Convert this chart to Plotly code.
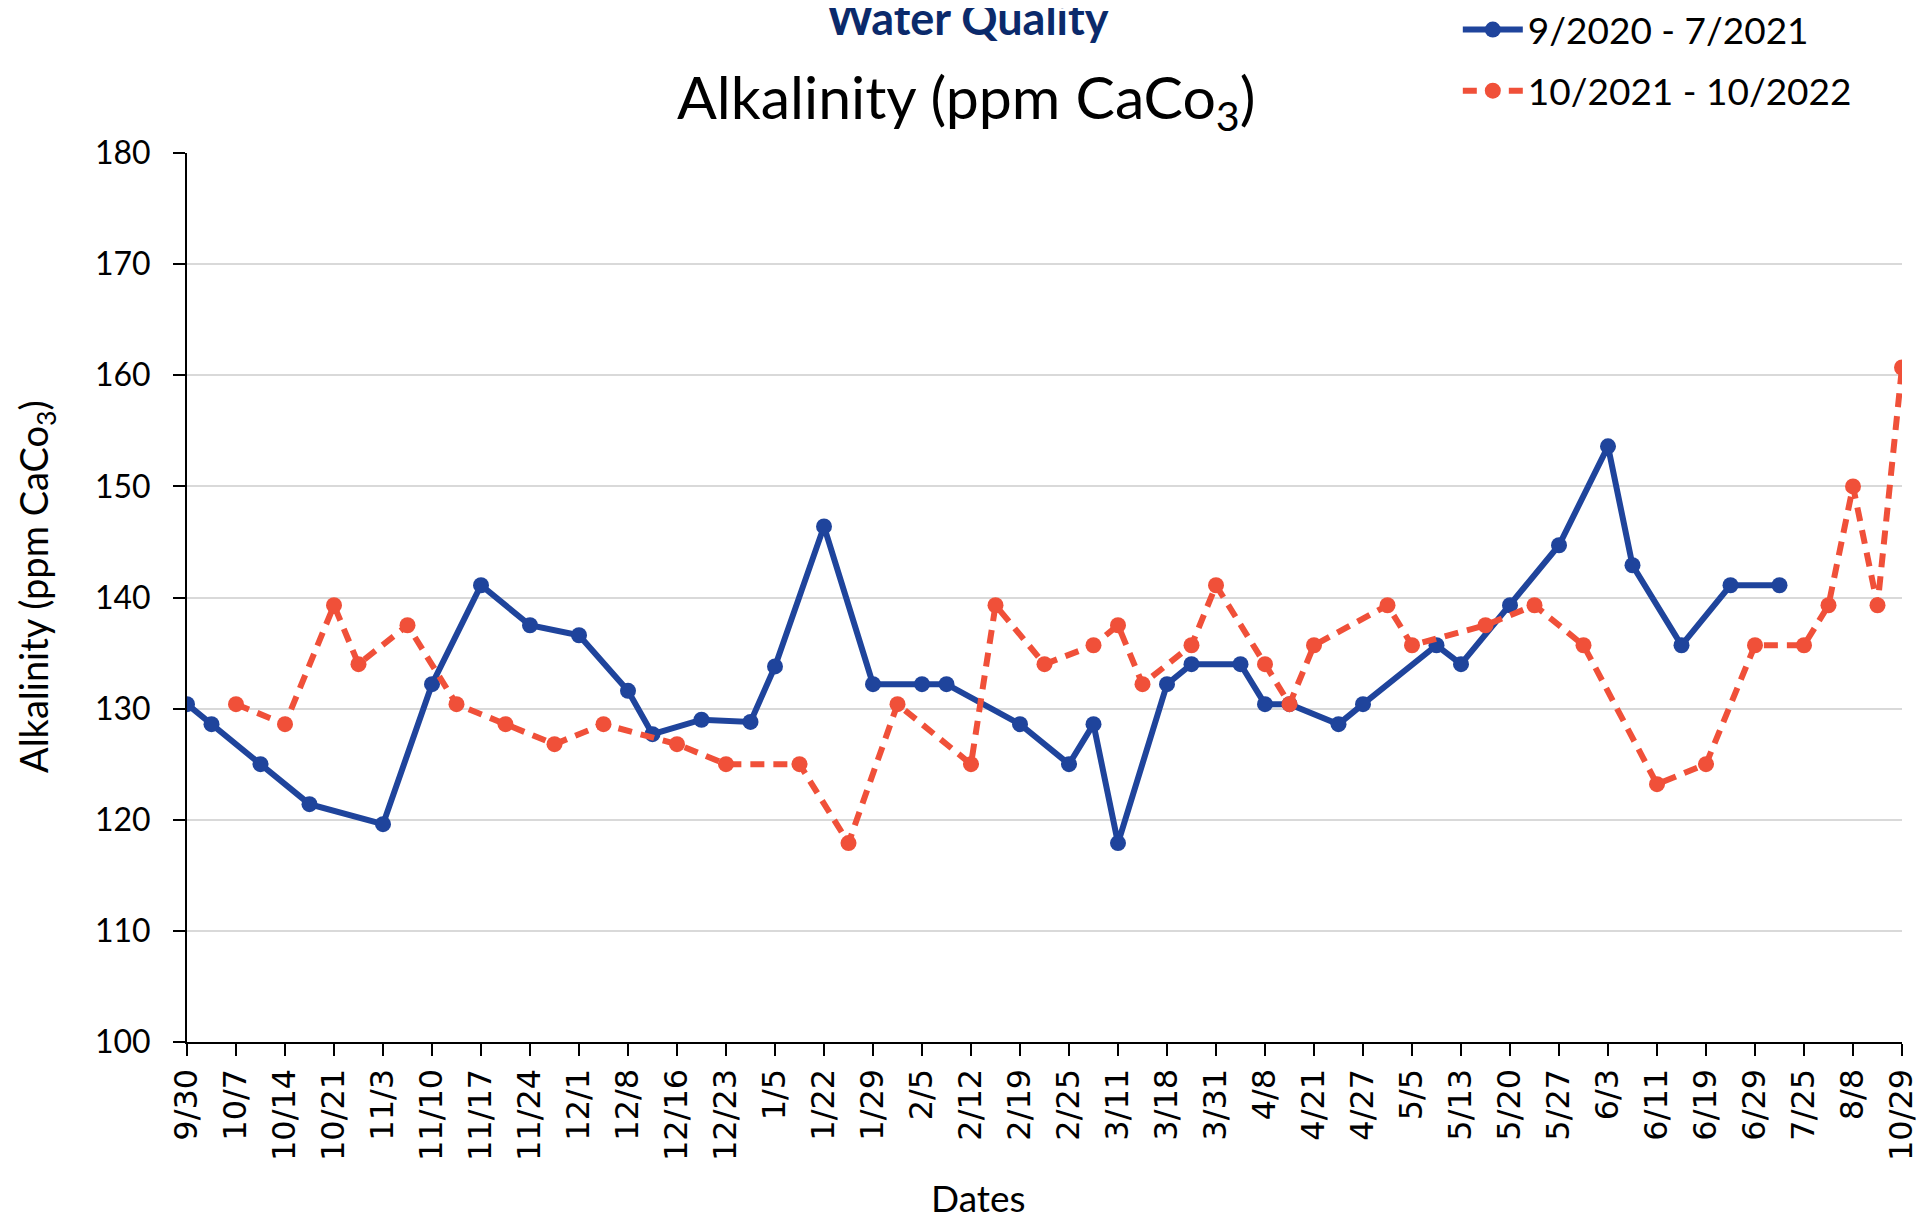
import plotly.graph_objects as go

# every other sample date is labelled on the axis (index 0, 2, 4 ... 70)
tick_labels = ["9/30", "10/7", "10/14", "10/21", "11/3", "11/10", "11/17", "11/24",
               "12/1", "12/8", "12/16", "12/23", "1/5", "1/22", "1/29", "2/5",
               "2/12", "2/19", "2/25", "3/11", "3/18", "3/31", "4/8", "4/21",
               "4/27", "5/5", "5/13", "5/20", "5/27", "6/3", "6/11", "6/19",
               "6/29", "7/25", "8/8", "10/29"]
n_samples = 71
sample_idx = list(range(n_samples))
tick_idx = sample_idx[::2]

# alkalinity readings (ppm CaCO3) by sample slot, None = no reading that slot
season_1 = {
    0: 130.4, 1: 128.6, 3: 125.0, 5: 121.4, 8: 119.6, 10: 132.2, 12: 141.1,
    14: 137.5, 16: 136.6, 18: 131.6, 19: 127.7, 21: 129.0, 23: 128.8, 24: 133.8,
    26: 146.4, 28: 132.2, 30: 132.2, 31: 132.2, 34: 128.6, 36: 125.0, 37: 128.6,
    38: 117.9, 40: 132.2, 41: 134.0, 43: 134.0, 44: 130.4, 45: 130.4, 47: 128.6,
    48: 130.4, 51: 135.7, 52: 134.0, 54: 139.3, 56: 144.7, 58: 153.6, 59: 142.9,
    61: 135.7, 63: 141.1, 65: 141.1,
}
season_2 = {
    2: 130.4, 4: 128.6, 6: 139.3, 7: 134.0, 9: 137.5, 11: 130.4, 13: 128.6,
    15: 126.8, 17: 128.6, 20: 126.8, 22: 125.0, 25: 125.0, 27: 117.9, 29: 130.4,
    32: 125.0, 33: 139.3, 35: 134.0, 37: 135.7, 38: 137.5, 39: 132.2, 41: 135.7,
    42: 141.1, 44: 134.0, 45: 130.4, 46: 135.7, 49: 139.3, 50: 135.7, 53: 137.5,
    55: 139.3, 57: 135.7, 60: 123.2, 62: 125.0, 64: 135.7, 66: 135.7, 67: 139.3,
    68: 150.0, 69: 139.3, 70: 160.7,
}
series_1 = [season_1.get(i) for i in sample_idx]
series_2 = [season_2.get(i) for i in sample_idx]

BLUE = "#1F449C"
RED = "#F05039"
FONT = "Lato"

# plot area in page pixels
W, H = 1927, 1219
L, R, T, B = 179, 33, 145, 185
plot_w = W - L - R
plot_h = H - T - B


def px_x(x):
    return (x - L) / plot_w


def px_y(y):
    return (H - B - y) / plot_h


fig = go.Figure()
fig.add_trace(go.Scatter(
    x=sample_idx, y=series_1, name="9/2020 - 7/2021",
    mode="lines+markers", connectgaps=True, legendgroup="a",
    line=dict(color=BLUE, width=6),
    marker=dict(color=BLUE, size=16),
))
fig.add_trace(go.Scatter(
    x=sample_idx, y=series_2, name="10/2021 - 10/2022",
    mode="lines+markers", connectgaps=True, legendgroup="b",
    line=dict(color=RED, width=6, dash="14px,9px"),
    marker=dict(color=RED, size=16),
))

fig.update_layout(
    width=W, height=H,
    margin=dict(l=L, r=R, t=T, b=B, autoexpand=False),
    paper_bgcolor="white", plot_bgcolor="white",
    font=dict(family=FONT, size=32, color="black"),
    title=dict(text="<b>Water Quality</b>", x=0.498, xanchor="center",
               y=1 - 11 / H, yref="container", yanchor="middle",
               font=dict(size=45, color="#0B2A6B", family=FONT)),
    annotations=[
        dict(text="Alkalinity (ppm CaCo<sub>3</sub>)", xref="paper", yref="paper",
             x=px_x(958), y=px_y(92), xanchor="center", yanchor="middle",
             showarrow=False, font=dict(size=59, color="black", family=FONT)),
        dict(text="Dates", xref="paper", yref="paper",
             x=px_x(970), y=px_y(1189), xanchor="center", yanchor="middle",
             showarrow=False, font=dict(size=37, color="black", family=FONT)),
        dict(text="Alkalinity (ppm CaCo<sub>3</sub>)", xref="paper", yref="paper",
             x=px_x(28), y=px_y(579), xanchor="center", yanchor="middle", textangle=-90,
             showarrow=False, font=dict(size=38, color="black", family=FONT)),
    ],
    legend=dict(x=0.741, y=1 + 154 / plot_h, xanchor="left", yanchor="top",
                font=dict(size=37), tracegroupgap=10, itemwidth=60,
                bgcolor="rgba(0,0,0,0)"),
    showlegend=True,
)
fig.update_xaxes(
    range=[0, n_samples - 1], tickmode="array", tickvals=tick_idx, ticktext=tick_labels,
    tickangle=-90, tickfont=dict(family="DejaVu Sans", size=32),
    showline=True, linecolor="black", linewidth=2, ticks="outside", ticklen=12,
    tickcolor="black", tickwidth=2, showgrid=False, zeroline=False, automargin=False,
)
fig.update_yaxes(
    range=[100, 180], dtick=10, showline=True, linecolor="black", linewidth=2,
    ticks="outside", ticklen=12, tickcolor="black", tickwidth=2, ticklabelstandoff=16,
    showgrid=True, gridcolor="#D9D9D9", gridwidth=2, zeroline=False, automargin=False,
)

fig.write_html("out.html")
